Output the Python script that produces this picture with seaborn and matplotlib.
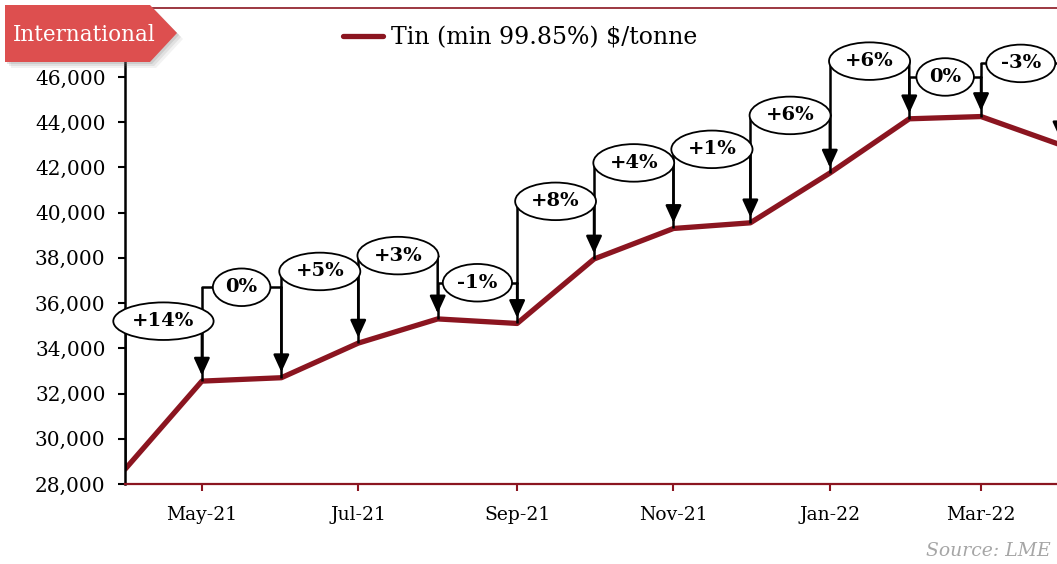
import pandas as pd
import matplotlib.pyplot as plt
import matplotlib.dates as mdates
from matplotlib.patches import Polygon
import seaborn as sns

# Giá thiếc hàng tháng (USD/tấn)
months = ['2021-04', '2021-05', '2021-06', '2021-07', '2021-08', '2021-09', '2021-10',
          '2021-11', '2021-12', '2022-01', '2022-02', '2022-03', '2022-04']
prices = [28650, 32550, 32700, 34230, 35300, 35100, 37950,
          39300, 39550, 41750, 44150, 44250, 43000]
changes = ['+14%', '0%', '+5%', '+3%', '-1%', '+8%', '+4%', '+1%', '+6%', '+6%', '0%', '-3%']
# độ cao của các nhãn phần trăm
label_levels = [35200, 36700, 37400, 38100, 36900, 40500, 42200, 42800, 44300, 46700, 46000, 46600]
y_ticks = list(range(28000, 46001, 2000))
x_ticks = ['2021-05', '2021-07', '2021-09', '2021-11', '2022-01', '2022-03']

df = pd.DataFrame({'month': pd.to_datetime(months), 'price': prices})

sns.set_style('ticks')
plt.rcParams['font.family'] = ['DejaVu Serif']
plt.rcParams['text.color'] = 'black'

RED = '#8B1520'
W, H = 1057, 564
fig = plt.figure(figsize=(W / 100, H / 100), dpi=100)
ax = fig.add_axes([125 / W, 80 / H, 997 / W, 476 / H])

sns.lineplot(data=df, x='month', y='price', color=RED, lw=3.8, ax=ax,
             label='Tin (min 99.85%) $/tonne', zorder=2)

ax.set_xlim(pd.Timestamp('2021-04-01'), pd.Timestamp('2022-04-25'))
ax.set_ylim(28000, 49050)
ax.set_yticks(y_ticks)
ax.yaxis.set_major_formatter(plt.FuncFormatter(lambda v, p: f'{v:,.0f}'))
ax.set_xticks(pd.to_datetime(x_ticks))
ax.xaxis.set_major_formatter(mdates.DateFormatter('%b-%y'))
ax.set_xlabel('')
ax.set_ylabel('')

ax.spines['right'].set_visible(False)
ax.spines['left'].set_color('black')
ax.spines['left'].set_linewidth(1.8)
ax.spines['bottom'].set_color(RED)
ax.spines['bottom'].set_linewidth(1.6)
ax.spines['top'].set_color(RED)
ax.spines['top'].set_linewidth(1.2)
ax.tick_params(axis='y', colors='black', labelsize=14.5, length=5, width=1.5, pad=9)
ax.tick_params(axis='x', colors=RED, labelcolor='black', labelsize=13.5, length=5, width=1.5, pad=11)

# mũi tên và nhãn thay đổi theo tháng
for i, lab in enumerate(changes):
    d0, d1 = df['month'][i], df['month'][i + 1]
    v0, v1 = df['price'][i], df['price'][i + 1]
    lvl = label_levels[i]
    ax.plot([d0, d0], [v0, lvl], color='black', lw=1.8, zorder=3, solid_capstyle='butt')
    ax.plot([d0, d1], [lvl, lvl], color='black', lw=1.8, zorder=3)
    ax.annotate('', xy=(d1, v1), xytext=(d1, lvl),
                arrowprops=dict(arrowstyle='-|>,head_length=0.7,head_width=0.32',
                                color='black', lw=1.8, shrinkA=0, shrinkB=4,
                                mutation_scale=15), zorder=3)
    ax.text(d0 + (d1 - d0) / 2, lvl, lab, ha='center', va='center', fontsize=14,
            fontweight='bold', color='black', zorder=5,
            bbox=dict(boxstyle='ellipse,pad=0.22', fc='white', ec='black', lw=1.3))

ax.legend(loc='center left', bbox_to_anchor=(343 / W, 1 - 38 / H), bbox_transform=fig.transFigure,
          frameon=False, fontsize=17, handlelength=1.7, handletextpad=0.35,
          borderpad=0, borderaxespad=0, labelcolor='black')

# nhãn "International"
pts = [(5, 5), (150, 5), (177, 33), (150, 62), (5, 62)]
for off, a in [(6, 0.10), (4, 0.15), (2, 0.2)]:
    shadow = Polygon([((x + off) / W, 1 - (y + off) / H) for x, y in pts], closed=True,
                     transform=fig.transFigure, fc='gray', ec='none', alpha=a, zorder=8)
    fig.patches.append(shadow)
box = Polygon([(x / W, 1 - y / H) for x, y in pts], closed=True, transform=fig.transFigure,
              fc='#DD4F4F', ec='none', zorder=9)
fig.patches.append(box)
fig.text(84 / W, 1 - 35 / H, 'International', color='white', fontsize=15.5,
         ha='center', va='center', zorder=10)

fig.text(926 / W, 1 - 551 / H, 'Source: LME', color='#A6A6A6', fontsize=13.5,
         style='italic', ha='left', va='center')

fig.savefig('out.png', dpi=100)
